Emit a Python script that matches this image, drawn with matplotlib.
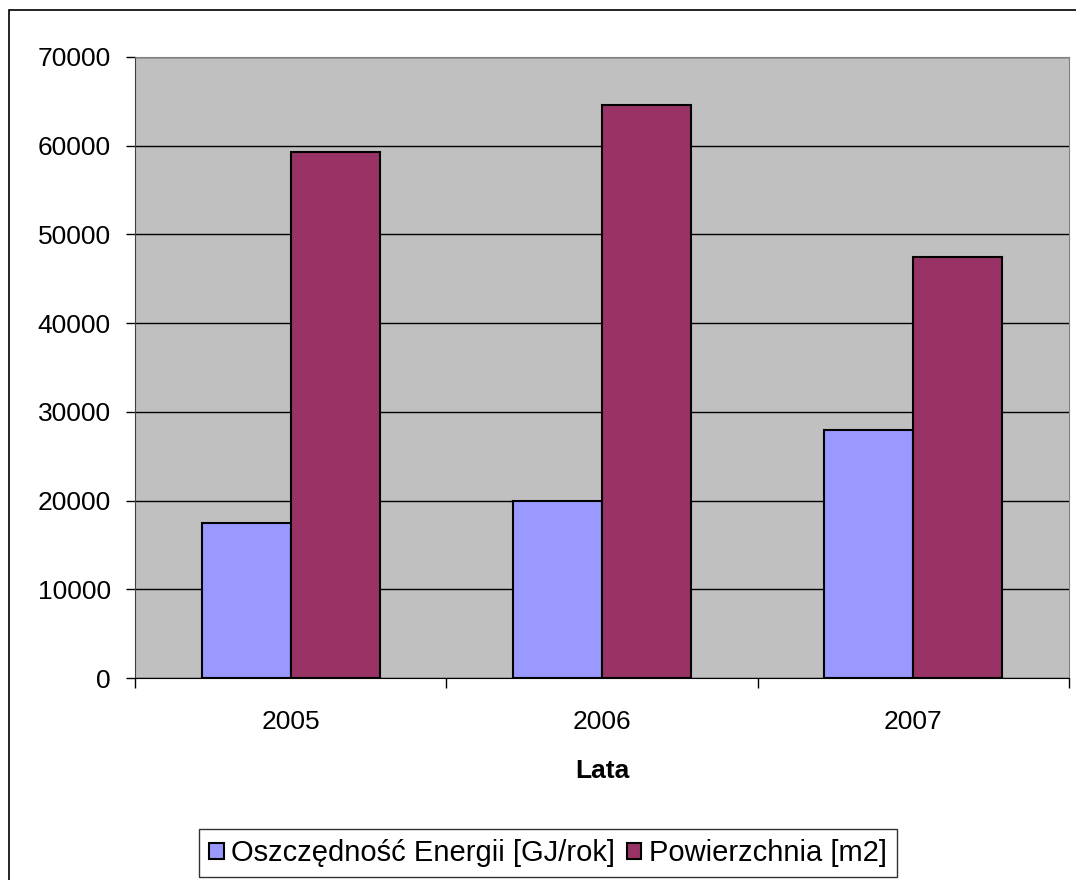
import matplotlib.pyplot as plt
import matplotlib.patches as patches
import numpy as np

years = ['2005', '2006', '2007']
energy = [17500, 20000, 28000]
area = [59300, 64600, 47500]

plt.rcParams['font.family'] = ['Liberation Sans', 'DejaVu Sans']

fig = plt.figure(figsize=(10.76, 8.8), dpi=100)
W, H = 1076, 880
# plot area in pixels: left 135, right 1069, top 57, bottom 678
ax = fig.add_axes([135 / W, 1 - 678 / H, (1069 - 135) / W, (678 - 57) / H])
ax.set_facecolor('#c0c0c0')

x = np.arange(len(years))
bw = 1 / 3.5
ax.bar(x - bw / 2, energy, bw, color='#9999ff', edgecolor='black', linewidth=1.5,
       label='Oszczędność Energii [GJ/rok]', zorder=3)
ax.bar(x + bw / 2, area, bw, color='#993366', edgecolor='black', linewidth=1.5,
       label='Powierzchnia [m2]', zorder=3)

ax.set_xlim(-0.5, 2.5)
ax.set_ylim(0, 70000)
ax.set_yticks(range(0, 70001, 10000))
ax.yaxis.grid(True, color='black', linewidth=1, zorder=1)
ax.set_axisbelow(True)

ax.set_xticks(x)
ax.set_xticklabels(years)
ax.tick_params(axis='x', length=0, labelsize=19, pad=23)
ax.set_xticks([-0.5, 0.5, 1.5, 2.5], minor=True)
ax.tick_params(axis='x', which='minor', length=7, width=1, color='black', direction='out')
ax.tick_params(axis='y', length=6.5, width=1, labelsize=19, direction='out', pad=11)

for s in ['top', 'right']:
    ax.spines[s].set_color('#808080')
ax.spines['left'].set_color('#404040')
ax.spines['bottom'].set_color('black')

ax.set_xlabel('Lata', fontsize=19, fontweight='bold', labelpad=18)

leg = fig.legend(loc='upper left', bbox_to_anchor=(199 / W, 1 - 829 / H), ncol=2,
                 fontsize=21, frameon=True, fancybox=False, edgecolor='black',
                 handlelength=0.5, handleheight=0.5, handletextpad=0.25,
                 columnspacing=0.4, borderpad=0.35, borderaxespad=0)
leg.get_frame().set_linewidth(1)

# outer chart border (right and bottom edges run past the image)
fig.patches.append(patches.Rectangle((9 / W, -5 / H), (1090 - 9) / W, (870 + 5) / H,
                                     transform=fig.transFigure, fill=False,
                                     edgecolor='black', linewidth=1.2))

fig.savefig('out.png', dpi=100)
